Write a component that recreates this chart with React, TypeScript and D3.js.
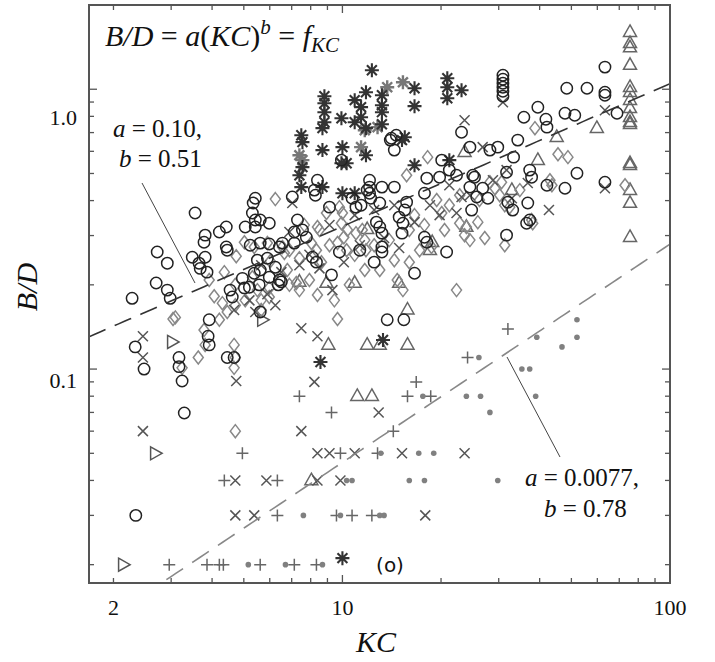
import React from "react";
import * as d3 from "d3";

// ---- data: [KC, B/D] ----
const circles: [number, number][] = [
  [2.28,0.179],[2.33,0.120],[2.48,0.100],[2.34,0.030],[2.70,0.203],[2.72,0.262],[2.92,0.239],[2.92,0.1915],[2.98,0.179],[3.17,0.110],[3.17,0.102],[3.24,0.0907],[3.29,0.0697],[3.48,0.251],[3.55,0.361],[3.65,0.239],[3.68,0.229],[3.81,0.251],[3.86,0.222],[3.81,0.301],[3.78,0.284],[3.92,0.150],[3.89,0.131],[3.92,0.122],[4.21,0.309],[4.42,0.322],[4.42,0.273],[4.45,0.266],[4.45,0.110],[4.67,0.110],[4.54,0.1915],[4.61,0.181],[5.02,0.195],[4.95,0.211],[5.20,0.196],[5.05,0.322],[5.42,0.322],[5.31,0.361],[5.42,0.408],[5.34,0.392],[5.42,0.341],[5.61,0.341],[5.98,0.332],[5.23,0.277],[5.61,0.282],[5.98,0.280],[6.56,0.282],[5.50,0.245],[5.90,0.249],[6.24,0.231],[5.61,0.226],[5.38,0.220],[5.98,0.213],[6.42,0.208],[6.37,0.200],[5.57,0.200],[5.61,0.160],[6.42,0.273],[7.13,0.309],[7.55,0.314],[7.13,0.282],[7.29,0.341],[7.03,0.412],[8.21,0.436],[8.39,0.473],[8.27,0.418],[9.13,0.379],[8.10,0.251],[8.33,0.241],[7.76,0.296],[6.51,0.205],[9.26,0.217],[9.79,0.262],[9.93,0.558],[10.7,0.408],[11.0,0.379],[11.4,0.385],[12.1,0.473],[12.1,0.447],[12.1,0.425],[12.2,0.408],[13.2,0.447],[14.4,0.447],[11.9,0.436],[13.0,0.392],[14.1,0.668],[14.6,0.685],[14.4,0.606],[14.0,0.658],[12.7,0.335],[13.0,0.322],[13.2,0.306],[11.3,0.266],[13.2,0.262],[12.5,0.241],[13.2,0.273],[14.9,0.349],[15.3,0.332],[15.5,0.370],[15.7,0.395],[15.2,0.306],[17.8,0.296],[18.1,0.284],[17.8,0.425],[18.1,0.481],[19.8,0.485],[20.1,0.558],[21.2,0.514],[22.3,0.493],[25.0,0.493],[25.3,0.485],[23.1,0.702],[24.5,0.621],[24.8,0.370],[20.8,0.262],[16.6,0.220],[13.7,0.150],[15.4,0.150],[26.8,0.443],[27.8,0.408],[25.7,0.412],[24.5,0.447],[28.2,0.606],[29.8,0.621],[33.3,0.572],[31.7,0.505],[34.3,0.658],[35.8,0.794],[39.5,0.862],[41.8,0.781],[42.1,0.732],[47.8,0.821],[51.2,0.807],[48.4,1.008],[55.8,1.008],[63.3,1.20],[63.3,0.976],[63.3,0.952],[68.9,0.821],[37.3,0.514],[37.8,0.485],[52.0,0.501],[63.3,0.465],[42.1,0.454],[47.8,0.443],[32.0,0.395],[36.8,0.392],[33.1,0.370],[37.3,0.341],[36.5,0.332],[31.7,0.301],[30.9,1.122],[30.9,1.086],[30.9,1.051],[30.9,1.017],[30.9,0.984],[30.9,0.944]
];

const diamonds: [number, number][] = [
  [3.04,0.151],[3.09,0.153],[3.24,0.101],[3.63,0.110],[3.78,0.138],[3.81,0.122],[3.92,0.208],[4.21,0.150],[4.30,0.172],[4.36,0.222],[4.71,0.200],[4.71,0.169],[4.67,0.122],[4.67,0.101],[4.71,0.110],[4.71,0.060],[4.74,0.253],[5.02,0.284],[5.38,0.273],[5.90,0.282],[6.02,0.243],[5.31,0.213],[5.98,0.195],[5.98,0.181],[6.24,0.405],[6.56,0.273],[6.89,0.266],[6.65,0.260],[7.23,0.203],[7.39,0.1915],[7.65,0.327],[8.04,0.282],[8.33,0.266],[8.39,0.322],[8.51,0.314],[8.94,0.361],[9.66,0.151],[9.79,0.379],[10.0,0.361],[9.93,0.332],[9.66,0.282],[10.1,0.296],[10.36,0.314],[11.0,0.306],[10.3,0.266],[11.5,0.314],[11.7,0.289],[11.8,0.266],[14.7,0.208],[15.3,0.1915],[15.7,0.493],[18.2,0.572],[17.2,0.266],[18.7,0.273],[19.4,0.402],[20.1,0.361],[22.8,0.332],[23.6,0.301],[23.9,0.322],[22.3,0.1915],[25.9,0.335],[27.2,0.294],[28.2,0.465],[30.6,0.465],[29.2,0.443],[31.3,0.385],[32.4,0.379],[31.3,0.277],[38.1,0.332],[37.8,0.341],[38.7,0.726],[43.0,0.473],[43.6,0.454],[45.5,0.586],[48.8,0.572],[72.9,0.454],
  [5.65,0.176],[6.79,0.226],[7.39,0.249],[8.63,0.241],[9.13,0.277],[10.9,0.256],[12.5,0.277],[13.9,0.289],[16.0,0.314],[16.6,0.355],[21.2,0.385],[22.8,0.418],
  [4.45,0.160],[4.06,0.182],[5.05,0.176],[5.50,0.1915],[5.65,0.1625],[6.89,0.200],[7.93,0.208],[8.39,0.184],[9.45,0.176],[10.5,0.200],[11.7,0.226],[13.0,0.226],[14.4,0.245],[16.0,0.241],[17.8,0.327],[20.5,0.314],[24.5,0.289],[26.2,0.402],[30.2,0.418],[34.8,0.436]
];

const crosses: [number, number][] = [
  [2.46,0.131],[2.46,0.110],[2.46,0.060],[4.74,0.0907],[4.67,0.1625],[5.42,0.160],[7.49,0.140],[8.39,0.131],[8.21,0.090],[7.49,0.060],[8.39,0.050],[9.13,0.050],[10.9,0.050],[4.71,0.040],[5.86,0.040],[8.39,0.040],[9.86,0.040],[4.71,0.030],[5.38,0.030],[12.9,0.070],[15.2,0.050],[23.6,0.050],[17.9,0.030],[7.03,0.392],[9.32,0.1915],[14.9,0.271],[23.6,0.775],[22.3,0.361],[23.1,0.412],[26.8,0.621],[28.8,0.473],[32.9,0.408],[36.8,0.462],[42.7,0.370],[63.3,0.841],[63.3,0.443],[30.9,0.899],[31.7,0.514],
  [5.65,0.235],[6.51,0.222],[7.39,0.235],[8.51,0.229],[10.1,0.241],[11.3,0.277],[13.4,0.294],[16.6,0.335],[19.8,0.355],[5.90,0.185],[6.89,0.309],
  [5.20,0.176],[6.24,0.169],[7.93,0.256],[9.13,0.327],[10.9,0.355],[12.5,0.370],[14.4,0.385],[18.5,0.385],[21.2,0.454],[24.5,0.418]
];

const pluses: [number, number][] = [
  [7.39,0.080],[9.26,0.070],[4.95,0.050],[9.86,0.050],[12.8,0.050],[4.36,0.040],[6.33,0.040],[6.33,0.030],[9.59,0.030],[10.7,0.030],[12.3,0.030],[2.96,0.020],[3.86,0.020],[4.21,0.020],[4.33,0.020],[5.61,0.020],[7.13,0.020],[8.33,0.020],[14.3,0.060],[15.8,0.080],[18.6,0.080],[16.8,0.090],[24.1,0.110],[32.0,0.139]
];

const dots: [number, number][] = [
  [10.3,0.040],[10.7,0.040],[7.60,0.030],[9.86,0.030],[13.0,0.030],[13.4,0.030],[5.16,0.020],[6.70,0.020],[8.69,0.020],[13.1,0.050],[17.1,0.050],[19.0,0.050],[16.0,0.040],[17.8,0.040],[29.8,0.040],[17.6,0.080],[23.9,0.080],[26.4,0.080],[38.9,0.080],[28.2,0.070],[35.3,0.100],[37.3,0.100],[26.1,0.110],[39.2,0.130],[52.0,0.130],[46.8,0.120],[52.0,0.150]
];

const trianglesUp: [number, number][] = [
  [9.06,0.122],[11.1,0.080],[12.3,0.080],[8.04,0.040],[11.9,0.122],[13.0,0.122],[15.8,0.122],[7.39,0.205],[8.94,0.203],[10.9,0.203],[14.9,0.203],[15.8,0.163],[18.5,0.266],[18.8,0.284],[11.9,0.316],[23.9,0.322],[23.6,0.596],[32.9,0.436],[39.5,0.558],[45.1,0.674],[59.8,0.726],
  [75.5,1.60],[75.5,1.46],[75.5,1.41],[75.5,1.22],[75.5,1.017],[75.5,0.976],[75.5,0.914],[75.5,0.855],[75.5,0.794],[75.5,0.762],[75.5,0.750],[75.5,0.544],[75.5,0.535],[75.5,0.436],[75.5,0.392],[75.5,0.296]
];

const trianglesRight: [number, number][] = [
  [3.02,0.125],[2.68,0.050],[2.14,0.020],[5.69,0.150]
];

const asterisks: [number, number][] = [
  [12.3,1.169],[8.81,0.944],[8.81,0.891],[8.81,0.828],[8.81,0.762],[8.69,0.726],[10.9,0.914],[11.8,0.976],[11.4,0.863],[13.2,0.952],[16.6,1.008],[16.6,0.870],[20.9,1.095],[20.9,1.017],[20.9,0.929],[23.1,0.992],[9.93,0.788],[10.9,0.762],[11.8,0.726],[11.4,0.794],[13.2,0.750],[13.2,0.877],[13.2,0.828],[7.49,0.685],[7.55,0.647],[7.55,0.527],[8.69,0.606],[10.0,0.621],[10.3,0.544],[9.93,0.544],[11.8,0.581],[15.5,0.674],[16.6,0.535],[21.2,0.558],[7.49,0.447],[8.69,0.447],[10.0,0.425],[10.9,0.425],[8.57,0.106],[10.0,0.0211],[13.3,0.127],[15.2,0.658],[7.39,0.493]
];

const asterisksGrey: [number, number][] = [
  [15.3,1.059],[13.7,1.017],[12.8,0.732],[7.39,0.581],[11.4,0.621],[11.7,0.714],[7.55,0.558]
];

const fitUpper = { a: 0.10, b: 0.51 };
const fitLower = { a: 0.0077, b: 0.78 };

const xMinor = [2, 3, 4, 5, 6, 7, 8, 9, 20, 30, 40, 50, 60, 70, 80, 90];
const xMajor = [10];
const yMinor = [0.02, 0.03, 0.04, 0.05, 0.06, 0.07, 0.08, 0.09, 0.2, 0.3, 0.4, 0.5, 0.6, 0.7, 0.8, 0.9];
const yMajor = [0.1, 1.0];
const xLabels: [number, string][] = [[2, "2"], [10, "10"], [100, "100"]];
const yLabels: [number, string, number][] = [[1.0, "1.0", 36], [0.1, "0.1", 19]];

const SERIF = "Liberation Serif";
const ts = (size: number, italic = false): React.CSSProperties => ({
  fontFamily: SERIF,
  fontSize: size,
  fontStyle: italic ? "italic" : "normal",
});

export default function App() {
  const L = 89, R = 670, T = 5, B = 583;
  const x = d3.scaleLog().domain([1.684, 100]).range([L, R]);
  const y = d3.scaleLog().domain([0.0172, 2.0]).range([B, T]);

  const fitLine = (f: { a: number; b: number }) => {
    const xs = d3.range(0, 101).map((i) => 1.684 * Math.pow(100 / 1.684, i / 100));
    return d3
      .line<number>()
      .x((k) => x(k))
      .y((k) => y(f.a * Math.pow(k, f.b)))(xs) as string;
  };

  const triUp = "M0,-7.2L6.5,4.3L-6.5,4.3Z";
  const triRight = "M-4.5,-6.5L7,0L-4.5,6.5Z";
  const diamond = "M0,-6.5L5,0L0,6.5L-5,0Z";
  const star = (r: number) => {
    const q = r * 0.7071;
    return `M${-r},0L${r},0M0,${-r}L0,${r}M${-q},${-q}L${q},${q}M${-q},${q}L${q},${-q}`;
  };

  return (
    <svg
      width={715}
      height={662}
      style={{ position: "absolute", left: 0, top: 0, background: "#fff" }}
    >
      <defs>
        <clipPath id="plot">
          <rect x={L} y={T} width={R - L} height={B - T} />
        </clipPath>
      </defs>
      <rect x={0} y={0} width={715} height={662} fill="#fff" />

      <g clipPath="url(#plot)">
        {trianglesUp.map((d, i) => (
          <path key={"tu" + i} d={triUp} transform={`translate(${x(d[0])},${y(d[1])})`} fill="none" stroke="#666" strokeWidth={1.5} />
        ))}
        {trianglesRight.map((d, i) => (
          <path key={"tr" + i} d={triRight} transform={`translate(${x(d[0])},${y(d[1])})`} fill="none" stroke="#555" strokeWidth={1.5} />
        ))}
        {pluses.map((d, i) => (
          <path key={"p" + i} d="M-6,0L6,0M0,-6L0,6" transform={`translate(${x(d[0])},${y(d[1])})`} stroke="#666" strokeWidth={1.5} />
        ))}
        {dots.map((d, i) => (
          <circle key={"d" + i} cx={x(d[0])} cy={y(d[1])} r={2.8} fill="#808080" />
        ))}
        {diamonds.map((d, i) => (
          <path key={"dm" + i} d={diamond} transform={`translate(${x(d[0])},${y(d[1])})`} fill="none" stroke="#888" strokeWidth={1.5} />
        ))}
        {crosses.map((d, i) => (
          <path key={"x" + i} d="M-5,-5L5,5M-5,5L5,-5" transform={`translate(${x(d[0])},${y(d[1])})`} stroke="#555" strokeWidth={1.5} />
        ))}
        {asterisksGrey.map((d, i) => (
          <path key={"ag" + i} d={star(7)} transform={`translate(${x(d[0])},${y(d[1])})`} stroke="#777" strokeWidth={2.4} />
        ))}
        {asterisks.map((d, i) => (
          <path key={"a" + i} d={star(7)} transform={`translate(${x(d[0])},${y(d[1])})`} stroke="#333" strokeWidth={2.1} />
        ))}
        {circles.map((d, i) => (
          <circle key={"c" + i} cx={x(d[0])} cy={y(d[1])} r={5.7} fill="none" stroke="#222" strokeWidth={1.5} />
        ))}

        <path d={fitLine(fitLower)} fill="none" stroke="#888" strokeWidth={1.6} strokeDasharray="20,11" />
        <path d={fitLine(fitUpper)} fill="none" stroke="#333" strokeWidth={1.6} strokeDasharray="18,10" />
      </g>

      {/* leader lines */}
      <line x1={142} y1={183} x2={195} y2={283} stroke="#444" strokeWidth={1} />
      <line x1={507} y1={357} x2={560} y2={457} stroke="#444" strokeWidth={1} />

      {/* frame */}
      <rect x={L} y={T} width={R - L} height={B - T} fill="none" stroke="#555" strokeWidth={2} />
      <g stroke="#555" strokeWidth={1.3}>
        {xMinor.map((v) => (
          <g key={"xm" + v}>
            <line x1={x(v)} x2={x(v)} y1={B} y2={B - 5} />
            <line x1={x(v)} x2={x(v)} y1={T} y2={T + 5} />
          </g>
        ))}
        {xMajor.map((v) => (
          <g key={"xM" + v}>
            <line x1={x(v)} x2={x(v)} y1={B} y2={B - 8} />
            <line x1={x(v)} x2={x(v)} y1={T} y2={T + 8} />
          </g>
        ))}
        {yMinor.map((v) => (
          <g key={"ym" + v}>
            <line x1={L} x2={L + 5} y1={y(v)} y2={y(v)} />
            <line x1={R} x2={R - 5} y1={y(v)} y2={y(v)} />
          </g>
        ))}
        {yMajor.map((v) => (
          <g key={"yM" + v}>
            <line x1={L} x2={L + 8} y1={y(v)} y2={y(v)} />
            <line x1={R} x2={R - 8} y1={y(v)} y2={y(v)} />
          </g>
        ))}
      </g>

      {/* tick labels */}
      {xLabels.map(([v, s]) => (
        <text key={"xl" + s} x={x(v)} y={615} textAnchor="middle" style={ts(22)} fill="#111">{s}</text>
      ))}
      {yLabels.map(([v, s, off]) => (
        <text key={"yl" + s} x={77} y={y(v) + off} textAnchor="end" style={ts(22)} fill="#111">{s}</text>
      ))}

      {/* axis titles */}
      <text x={376} y={652} textAnchor="middle" style={ts(30, true)} fill="#111">KC</text>
      <text transform="translate(37,287) rotate(-90)" textAnchor="middle" style={ts(30, true)} fill="#111">B/D</text>

      {/* equation */}
      <text x={105} y={46} style={ts(30)} fill="#111">
        <tspan style={ts(30, true)}>B/D</tspan>
        <tspan> = </tspan>
        <tspan style={ts(30, true)}>a</tspan>
        <tspan>(</tspan>
        <tspan style={ts(30, true)}>KC</tspan>
        <tspan>)</tspan>
        <tspan style={ts(21, true)} dy={-12}>b</tspan>
        <tspan dy={12}> = </tspan>
        <tspan style={ts(30, true)}>f</tspan>
        <tspan style={ts(21, true)} dy={6}>KC</tspan>
      </text>

      {/* annotations */}
      <text x={113} y={137} style={ts(25)} fill="#111">
        <tspan style={ts(25, true)}>a</tspan> = 0.10,
      </text>
      <text x={119} y={167} style={ts(25)} fill="#111">
        <tspan style={ts(25, true)}>b</tspan> = 0.51
      </text>
      <text x={525} y={486} style={ts(25)} fill="#111">
        <tspan style={ts(25, true)}>a</tspan> = 0.0077,
      </text>
      <text x={544} y={517} style={ts(25)} fill="#111">
        <tspan style={ts(25, true)}>b</tspan> = 0.78
      </text>
      <text x={390} y={572} textAnchor="middle" fill="#111" style={{ fontFamily: "DejaVu Sans", fontSize: 20 }}>(o)</text>
    </svg>
  );
}
